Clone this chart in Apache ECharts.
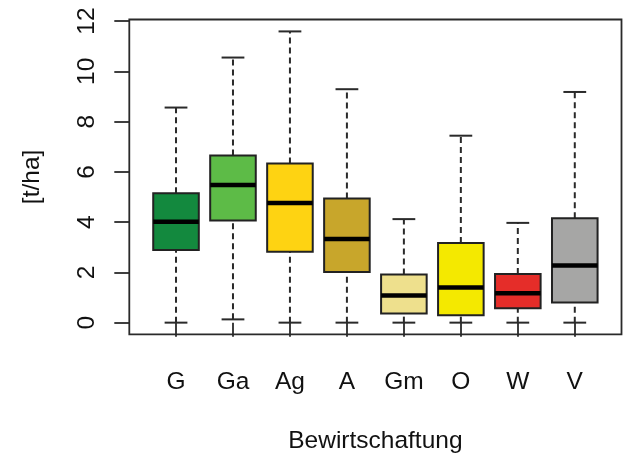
<!DOCTYPE html>
<html>
<head>
<meta charset="utf-8">
<script src="https://cdn.jsdelivr.net/npm/echarts@6/dist/echarts.min.js"></script>
<style>
html,body{margin:0;padding:0;background:#fff;}
#chart{width:624px;height:459px;}
</style>
</head>
<body>
<div id="chart"></div>
<script>
// Data
const categories = ['G', 'Ga', 'Ag', 'A', 'Gm', 'O', 'W', 'V'];
const lowerWhisker = [0, 0.13, 0, 0, 0, 0, 0, 0];
const q1 = [2.89, 4.06, 2.82, 2.02, 0.36, 0.29, 0.57, 0.80];
const median = [4.02, 5.48, 4.76, 3.33, 1.08, 1.40, 1.17, 2.27];
const q3 = [5.15, 6.65, 6.33, 4.94, 1.92, 3.17, 1.94, 4.15];
const upperWhisker = [8.56, 10.55, 11.59, 9.29, 4.12, 7.44, 3.97, 9.18];
const boxColors = ['#13893e', '#5dbb47', '#fed312', '#c8a62b', '#eee08d', '#f4e900', '#e52d29', '#a6a6a5'];
const yTicks = [0, 2, 4, 6, 8, 10, 12];
const xPositions = [1, 2, 3, 4, 5, 6, 7, 8];

const seriesData = categories.map((c, i) => [xPositions[i], lowerWhisker[i], q1[i], median[i], q3[i], upperWhisker[i], i]);

const chart = echarts.init(document.getElementById('chart'), null, {renderer: 'canvas'});
const FONT = 'Liberation Sans, Arial, sans-serif';
const lineCol = '#2a2a2a';

function renderItem(params, api) {
  const x = api.value(0);
  const lo = api.value(1), a = api.value(2), m = api.value(3), b = api.value(4), hi = api.value(5);
  const idx = api.value(6);
  const bw = api.size([0.8, 0])[0];
  const cw = api.size([0.4, 0])[0];
  const pLo = api.coord([x, lo]), pA = api.coord([x, a]), pM = api.coord([x, m]), pB = api.coord([x, b]), pHi = api.coord([x, hi]);
  const cx = pLo[0];
  const dashStyle = {stroke: lineCol, lineWidth: 2, lineDash: [6, 4]};
  const solid = {stroke: lineCol, lineWidth: 2};
  return {
    type: 'group',
    children: [
      {type: 'line', shape: {x1: cx, y1: pB[1], x2: cx, y2: pHi[1]}, style: dashStyle},
      {type: 'line', shape: {x1: cx, y1: pLo[1], x2: cx, y2: pA[1]}, style: dashStyle},
      {type: 'line', shape: {x1: cx - cw / 2, y1: pHi[1], x2: cx + cw / 2, y2: pHi[1]}, style: solid},
      {type: 'line', shape: {x1: cx - cw / 2, y1: pLo[1], x2: cx + cw / 2, y2: pLo[1]}, style: solid},
      {type: 'rect', shape: {x: cx - bw / 2, y: pB[1], width: bw, height: pA[1] - pB[1]},
        style: {fill: boxColors[idx], stroke: '#222', lineWidth: 2}},
      {type: 'line', shape: {x1: cx - bw / 2, y1: pM[1], x2: cx + bw / 2, y2: pM[1]},
        style: {stroke: '#000', lineWidth: 4.5}}
    ]
  };
}

const option = {
  backgroundColor: '#fff',
  animation: false,
  grid: {left: 129.3, right: 2.5, top: 19.5, bottom: 124.7, show: true, borderColor: lineCol, borderWidth: 1.8, backgroundColor: 'transparent'},
  xAxis: {
    type: 'value', min: 0.18, max: 8.82,
    name: 'Bewirtschaftung', nameLocation: 'middle', nameGap: 94,
    nameTextStyle: {fontFamily: FONT, fontSize: 24.5, color: '#111'},
    axisLine: {show: false},
    splitLine: {show: false},
    axisTick: {show: true, customValues: xPositions, length: 14, inside: false, lineStyle: {color: lineCol, width: 1.8}},
    axisLabel: {customValues: xPositions, margin: 35, fontFamily: FONT, fontSize: 24.5, color: '#111',
      formatter: v => categories[Math.round(v) - 1] || ''}
  },
  yAxis: {
    type: 'value', min: -0.464, max: 12.064,
    name: '[t/ha]', nameLocation: 'middle', nameGap: 85, nameRotate: 90,
    nameTextStyle: {fontFamily: FONT, fontSize: 24.5, color: '#111'},
    axisLine: {show: false},
    splitLine: {show: false},
    axisTick: {show: true, customValues: yTicks, length: 15, inside: false, lineStyle: {color: lineCol, width: 1.8}},
    axisLabel: {customValues: yTicks, rotate: 90, margin: 30, fontFamily: FONT, fontSize: 24.5, color: '#111'}
  },
  series: [{
    type: 'custom',
    renderItem: renderItem,
    encode: {x: 0, y: [1, 2, 3, 4, 5]},
    data: seriesData,
    clip: false
  }]
};
chart.setOption(option);
</script>
</body>
</html>
